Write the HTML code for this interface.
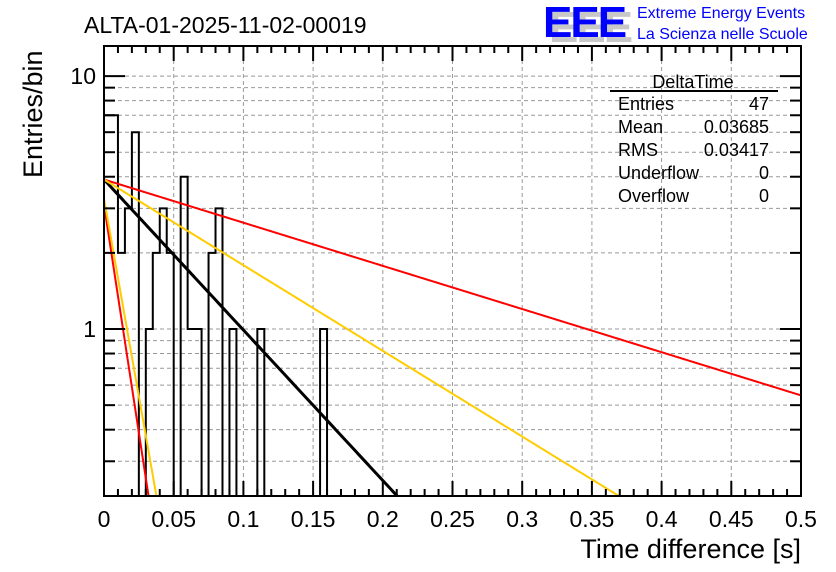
<!DOCTYPE html>
<html><head><meta charset="utf-8"><style>
body{margin:0;background:#fff}
svg{display:block;font-family:"Liberation Sans",Arial,sans-serif}
</style></head><body>
<svg id="c" width="836" height="572" viewBox="0 0 836 572">
<rect x="0" y="0" width="836" height="572" fill="#fff"/>
<text x="84" y="33" font-size="23" fill="#000">ALTA-01-2025-11-02-00019</text>
<g>
<text x="549" y="42" font-size="44" fill="#c8c8c8" font-weight="bold" letter-spacing="-2">EEE</text>
<text x="543" y="37" font-size="44" fill="#0000ff" font-weight="bold" letter-spacing="-2">EEE</text>
<text x="637" y="18" font-size="16" fill="#0000ff">Extreme Energy Events</text>
<text x="637" y="39" font-size="16" fill="#0000ff">La Scienza nelle Scuole</text>
</g>
<g id="grid"></g>
<g id="marks"></g>
<g id="axes"></g>
<text transform="translate(42,178) rotate(-90)" font-size="27" fill="#000">Entries/bin</text>
<text x="801" y="558" font-size="27" fill="#000" text-anchor="end">Time difference [s]</text>
<g>
<text x="693" y="88" font-size="18" text-anchor="middle">DeltaTime</text>
<line x1="610" y1="91" x2="778" y2="91" stroke="#000" stroke-width="2"/>
<text x="618" y="110" font-size="18">Entries</text>
<text x="769" y="110" font-size="18" text-anchor="end">47</text>
<text x="618" y="133" font-size="18">Mean</text>
<text x="769" y="133" font-size="18" text-anchor="end">0.03685</text>
<text x="618" y="156" font-size="18">RMS</text>
<text x="769" y="156" font-size="18" text-anchor="end">0.03417</text>
<text x="618" y="179" font-size="18">Underflow</text>
<text x="769" y="179" font-size="18" text-anchor="end">0</text>
<text x="618" y="202" font-size="18">Overflow</text>
<text x="769" y="202" font-size="18" text-anchor="end">0</text>
</g>
</svg>
<script>
// histogram bin counts, 100 bins of width 0.005 from 0 to 0.5
const binCounts = [7,7,2,3,6,0,1,2,3,2,0,4,1,1,0,2,3,0,1,0,0,0,1,0,0,0,0,0,0,0,0,1];
const binWidth = 0.005;
// exponential fit curves: amplitude at t=0 and decay rate (1/s)
const fitAmplitudes = [3.9, 3.9, 3.9, 3.1, 3.28];
const fitRates = [13.7, 3.93, 7.8, 83, 72];
const fitColors = ['#000000','#ff0000','#ffcc00','#ff0000','#ffcc00'];
const fitNames = ['fit-black','fit-red-slow','fit-yellow-slow','fit-red-fast','fit-yellow-fast'];
const xTickLabels = ['0','0.05','0.1','0.15','0.2','0.25','0.3','0.35','0.4','0.45','0.5'];
const yTickLabels = ['1','10'];

const L=104,R=801,T=46,B=496, XMAX=0.5, YMIN=0.2187, YMAX=13.15;
const NS='http://www.w3.org/2000/svg';
const X=v=>L+(v/XMAX)*(R-L);
const Y=v=>{const lv=Math.log10(Math.max(v,1e-9));return B-(lv-Math.log10(YMIN))/(Math.log10(YMAX)-Math.log10(YMIN))*(B-T);};
const Yc=v=>v<=0?B:Math.max(T,Math.min(B,Y(v)));
function mk(tag,attrs,parent){const e=document.createElementNS(NS,tag);for(const k in attrs)e.setAttribute(k,attrs[k]);parent.appendChild(e);return e;}
const grid=document.getElementById('grid'),marks=document.getElementById('marks'),axes=document.getElementById('axes');
mk('defs',{},marks).innerHTML='<clipPath id="pc"><rect x="104" y="46" width="697" height="450"/></clipPath>';

for(let i=1;i<xTickLabels.length-1;i++){
  const x=X(parseFloat(xTickLabels[i]));
  const g=mk('line',{x1:x,x2:x,y1:T,y2:B,stroke:'#999','stroke-dasharray':'4,3','stroke-width':1},grid);
  
  
}
const yMinor=[0.3,0.4,0.5,0.6,0.7,0.8,0.9,1,2,3,4,5,6,7,8,9,10];
for(const v of yMinor){
  const y=Y(v);
  const g=mk('line',{x1:L,x2:R,y1:y,y2:y,stroke:'#999','stroke-dasharray':'4,3','stroke-width':1},grid);
  
  
  for(const [x0,dir] of [[L,1],[R,-1]]){
    const len=(v===1||v===10)?21:11;
    const t=mk('line',{x1:x0,x2:x0+dir*len,y1:y,y2:y,stroke:'#000','stroke-width':2},axes);
    
    
  }
}

let d='M'+X(0)+','+B;
for(let i=0;i<binCounts.length;i++){
  const y=Yc(binCounts[i]);
  d+=' L'+X(i*binWidth)+','+y+' L'+X((i+1)*binWidth)+','+y;
}
d+=' L'+X(binCounts.length*binWidth)+','+B;
const h=mk('path',{d:d,fill:'none',stroke:'#000','stroke-width':2,'clip-path':'url(#pc)'},marks);



for(let k=0;k<fitAmplitudes.length;k++){
  let p='';
  for(let j=0;j<=500;j++){
    const t=j/500*XMAX, v=fitAmplitudes[k]*Math.exp(-fitRates[k]*t);
    if(v<YMIN*0.9)break;
    p+=(p?' L':'M')+X(t).toFixed(2)+','+Y(v).toFixed(2);
  }
  const c=mk('path',{d:p,fill:'none',stroke:fitColors[k],'stroke-width':k===0?3:2,'clip-path':'url(#pc)'},marks);
  
  
}

const fr=mk('rect',{x:L,y:T,width:R-L,height:B-T,fill:'none',stroke:'#000','stroke-width':2},axes);



for(let i=0;i<=50;i++){
  const x=X(i*0.01), len=(i%5===0)?15:7;
  for(const [y0,dir] of [[B,-1],[T,1]]){
    const t=mk('line',{x1:x,x2:x,y1:y0,y2:y0+dir*len,stroke:'#000','stroke-width':2},axes);
    
    
  }
}
for(const s of xTickLabels){
  const t=mk('text',{x:X(parseFloat(s)),y:527,'font-size':23,'text-anchor':'middle'},axes);
  t.textContent=s;
  
  
}
for(const s of yTickLabels){
  const t=mk('text',{x:96,y:Y(parseFloat(s))+8,'font-size':23,'text-anchor':'end'},axes);
  t.textContent=s;
  
  
}
</script>
</body></html>
